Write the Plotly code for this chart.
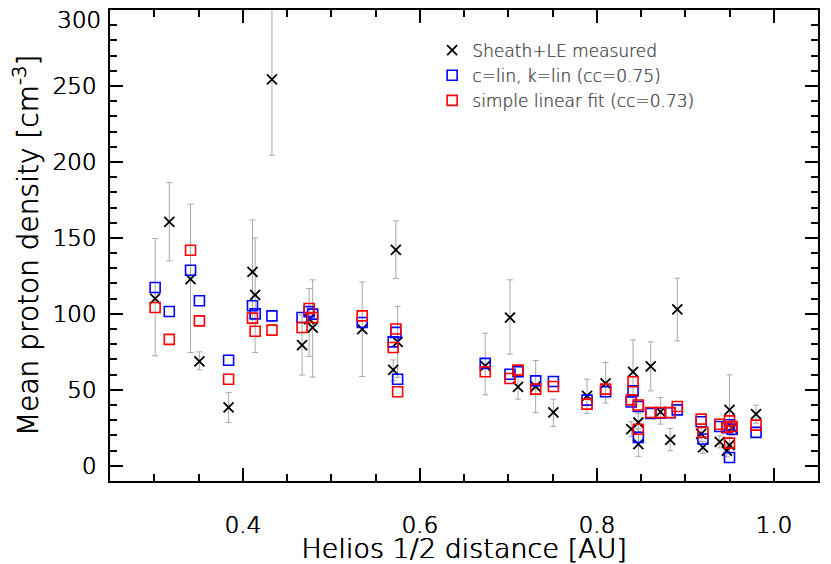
import plotly.graph_objects as go

# Helios 1/2 events: heliocentric distance [AU]
dist = [0.301, 0.317, 0.341, 0.351, 0.384, 0.411, 0.414, 0.433, 0.467, 0.475,
        0.479, 0.535, 0.570, 0.573, 0.575, 0.674, 0.702, 0.711, 0.731, 0.751,
        0.789, 0.810, 0.841, 0.839, 0.847, 0.847, 0.861, 0.872, 0.883, 0.891,
        0.918, 0.920, 0.939, 0.947, 0.950, 0.950, 0.953, 0.980]

# measured sheath+LE mean proton density [cm^-3] with error bars
measured = [110.0, 160.5, 122.8, 68.7, 38.4, 127.6, 112.5, 254.4, 79.4, 96.5,
            91.0, 90.0, 63.2, 142.1, 81.6, 65.8, 97.6, 52.0, 52.2, 35.1,
            46.0, 54.2, 61.8, 24.1, 28.5, 14.3, 65.4, 35.5, 17.1, 103.0,
            21.0, 12.1, 15.8, 9.9, 36.8, 13.6, 25.0, 34.0]
err_up = [39.6, 25.9, 49.4, 6.3, 9.9, 34.2, 37.5, 50.0, 20.0, 20.2,
          31.4, 31.0, 6.5, 19.1, 23.3, 21.5, 24.8, 8.0, 17.1, 8.8,
          11.0, 13.8, 21.1, 5.0, 6.0, 10.0, 16.2, 9.5, 7.5, 20.5,
          5.0, 4.0, 4.0, 4.0, 23.1, 5.0, 5.0, 5.9]
err_down = [37.6, 25.6, 48.2, 5.5, 9.9, 34.2, 37.9, 50.0, 19.7, 24.5,
            32.6, 31.2, 7.3, 18.8, 23.3, 19.1, 24.1, 8.1, 17.1, 9.2,
            11.5, 12.9, 21.1, 5.0, 6.0, 8.1, 16.1, 8.1, 7.2, 20.8,
            5.0, 4.0, 4.0, 4.0, 23.1, 5.0, 5.0, 6.0]

# model: c=lin, k=lin
model_lin = [117.4, 101.6, 128.7, 108.6, 69.5, 105.3, 100.0, 98.7, 97.6, 101.5,
             99.8, 94.3, 81.6, 87.8, 57.0, 67.4, 60.3, 62.0, 55.9, 55.5,
             43.2, 48.7, 49.3, 42.0, 39.0, 18.7, 34.5, 34.7, 34.9, 36.8,
             29.0, 17.6, 25.9, 25.0, 27.0, 5.5, 24.1, 22.0]

# simple linear fit
model_fit = [104.2, 83.2, 141.9, 95.4, 57.0, 97.2, 88.6, 89.3, 91.0, 103.5,
             97.6, 98.7, 77.9, 90.0, 48.7, 61.9, 57.5, 63.0, 50.5, 52.2,
             40.6, 50.5, 55.3, 43.4, 40.0, 24.1, 35.1, 35.0, 35.1, 39.0,
             30.7, 22.0, 27.4, 25.2, 29.6, 14.9, 25.9, 26.8]

x_ticks = [0.4, 0.6, 0.8, 1.0]
y_ticks = [0, 50, 100, 150, 200, 250, 300]

FONT = "DejaVu Sans"
W = 300  # light weight, closer to the thin IDL font
SHADOW = "0.5px 0px 0px black, 0px 0.4px 0px black"  # thickens the light strokes a bit


def tfont(size, color="black", shadow=SHADOW):
    return dict(family=FONT, size=size, color=color, weight=W, shadow=shadow)


fig = go.Figure()

fig.add_trace(go.Scatter(
    x=dist, y=measured, mode="markers", name="Sheath+LE measured",
    marker=dict(symbol="x-thin-open", size=10, color="black",
                line=dict(color="black", width=1.8)),
    error_y=dict(type="data", symmetric=False, array=err_up, arrayminus=err_down,
                 color="#a8a8a8", thickness=1, width=3),
))
fig.add_trace(go.Scatter(
    x=dist, y=model_lin, mode="markers", name="c=lin, k=lin (cc=0.75)",
    marker=dict(symbol="square-open", size=10, color="#0000ff",
                line=dict(color="#0000ff", width=1.6)),
))
fig.add_trace(go.Scatter(
    x=dist, y=model_fit, mode="markers", name="simple linear fit (cc=0.73)",
    marker=dict(symbol="square-open", size=10, color="#ff0000",
                line=dict(color="#ff0000", width=1.6)),
))

axis_common = dict(
    showgrid=False, zeroline=False, showline=True, linecolor="black", linewidth=2,
    mirror="ticks", ticks="inside", tickcolor="black", tickwidth=1.5, ticklen=13,
    tickfont=tfont(23), automargin=False, ticklabeloverflow="allow",
)

# top label "300" sits just under the top axis in the original
fig.add_annotation(x=0, xref="paper", y=y_ticks[-1], yref="y", text=str(y_ticks[-1]),
                   showarrow=False, xanchor="right", yanchor="middle",
                   xshift=-7, yshift=-10, font=tfont(23))

# page body has an 8px margin: size/margins compensate so the plot box lands
# where it is in the original
fig.update_layout(
    template="none",
    width=823, height=556,
    margin=dict(l=102, r=13, t=2, b=83),
    paper_bgcolor="white", plot_bgcolor="white",
    font=dict(family=FONT, color="black", weight=W),
    xaxis=dict(
        range=[0.25, 1.05], tickvals=x_ticks,
        ticktext=["%.1f" % v for v in x_ticks],
        minor=dict(dtick=0.05, tick0=0.25, ticks="inside", ticklen=7,
                   tickcolor="black", tickwidth=1.5),
        ticklabelstandoff=22,
        title=dict(text="Helios 1/2 distance [AU]", font=tfont(27), standoff=6),
        **axis_common,
    ),
    yaxis=dict(
        range=[-10, 300], tickvals=y_ticks,
        ticktext=[str(v) for v in y_ticks[:-1]] + [""],
        minor=dict(dtick=10, tick0=0, ticks="inside", ticklen=7,
                   tickcolor="black", tickwidth=1.5),
        ticklabelstandoff=7,
        title=dict(text="Mean proton density [cm<sup>-3</sup>]",
                   font=tfont(28), standoff=8),
        **axis_common,
    ),
    showlegend=True,
    legend=dict(
        x=0.455, y=0.952, xanchor="left", yanchor="top",
        bgcolor="rgba(0,0,0,0)", borderwidth=0,
        font=tfont(17, color="#505050", shadow="0.4px 0px 0px #505050"),
        itemwidth=30, tracegroupgap=0,
    ),
)

fig.write_html("out.html")
